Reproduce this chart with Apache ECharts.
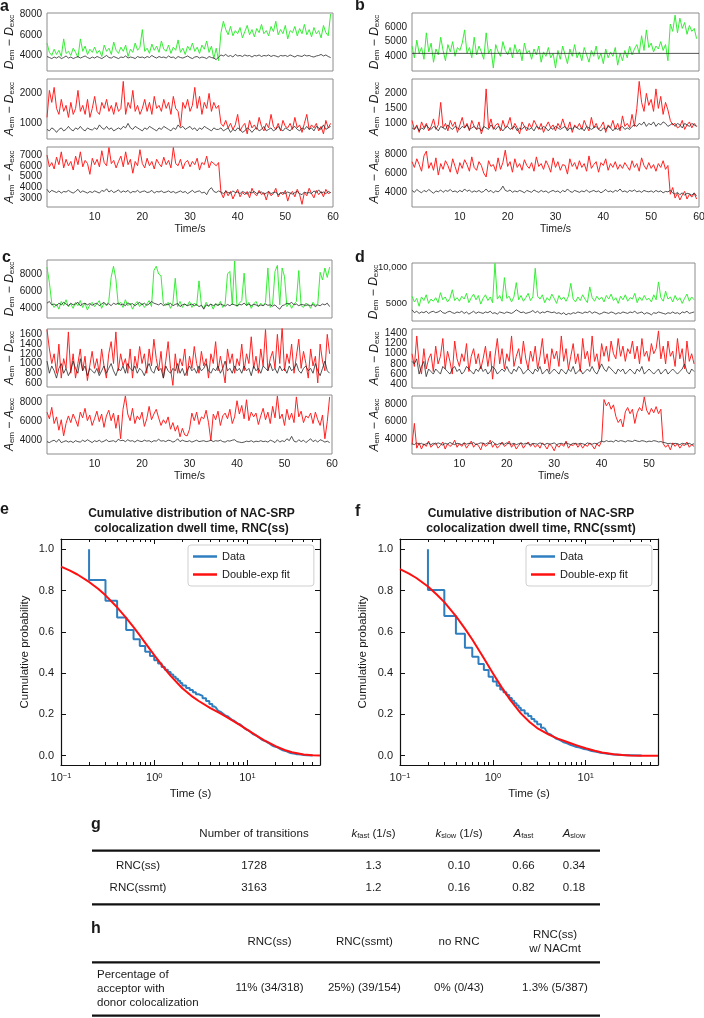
<!DOCTYPE html>
<html><head><meta charset="utf-8">
<script src="https://cdn.jsdelivr.net/npm/echarts@6/dist/echarts.min.js"></script>
<style>html,body{margin:0;padding:0;background:#fff}#c{width:704px;height:1018px}</style>
</head><body><div id="c"></div>
<script>
// ---------------- DATA ----------------
const time = [0,0.5,1,1.5,2,2.5,3,3.5,4,4.5,5,5.5,6,6.5,7,7.5,8,8.5,9,9.5,10,10.5,11,11.5,12,12.5,13,13.5,14,14.5,15,15.5,16,16.5,17,17.5,18,18.5,19,19.5,20,20.5,21,21.5,22,22.5,23,23.5,24,24.5,25,25.5,26,26.5,27,27.5,28,28.5,29,29.5,30,30.5,31,31.5,32,32.5,33,33.5,34,34.5,35,35.5,36,36.5,37,37.5,38,38.5,39,39.5,40,40.5,41,41.5,42,42.5,43,43.5,44,44.5,45,45.5,46,46.5,47,47.5,48,48.5,49,49.5,50,50.5,51,51.5,52,52.5,53,53.5,54,54.5,55,55.5,56,56.5,57,57.5,58,58.5,59,59.5];

const a1Green = [
5200,4300,4000,4600,4100,4500,3900,5600,4200,4400,
4000,4700,4300,3800,5600,4400,4900,4100,4600,4300,
4800,4200,4500,3900,5000,4400,4700,4100,5300,4500,
4200,4800,4400,5000,3900,4600,4300,5200,4500,4800,
6500,4400,4700,4200,5100,4500,4900,4300,5400,4600,
4400,5000,4200,4800,4500,5500,4300,4700,4100,4900,
4500,5200,4400,4800,4200,5000,4600,5400,4300,4900,
3700,4700,3500,6200,7300,6500,6000,6800,5900,6400,
6100,6700,5700,6300,6900,6000,6500,5800,6600,6200,
7000,6100,6400,5900,6800,6300,7300,6000,6500,6100,
6900,5600,6400,6200,6800,5900,6600,6100,7000,6000,
6500,5800,6700,6100,6400,5700,6900,6200,5900,8000];
const a1Black = [
3900,3800,3700,3850,3750,3900,3700,3800,3950,3750,
3850,3700,3800,3900,3750,3850,3950,3800,3700,3850,
3750,3900,3800,3700,3850,4000,3800,3750,3900,3800,
3700,3850,3800,3950,3750,3850,3800,3700,3900,3800,
3850,3750,3900,3800,4000,3850,3750,3900,3800,3850,
3750,3950,3800,3850,3700,3900,3800,3750,3850,3950,
3800,3700,3850,3900,3750,3850,3800,3700,3900,3800,
3750,3600,3850,4050,3950,4100,3900,4000,3850,4100,
3950,4000,3900,4050,3950,4000,3850,4000,3950,4050,
3900,4000,3950,4050,3900,4000,3950,3850,4000,3950,
4000,3900,4050,3950,3850,4000,3950,3900,4050,3950,
4000,3900,3850,3950,4000,4100,3950,4050,3900,3800];
const a2Red = [
1200,2100,1700,2200,1500,1300,1800,1400,1600,1200,
1700,1300,1500,2100,1400,1600,1300,1800,1200,1500,
1900,1400,1300,1700,1500,1800,1400,1600,1300,1700,
1400,1500,2400,1300,1700,1500,2100,1400,1600,1300,
1500,1800,1400,1700,1300,1900,1500,1600,1400,1800,
1500,1700,1300,1900,1500,1400,900,1700,1500,1800,
1400,1600,2200,1500,1900,1300,1700,1500,2000,1400,
1700,1500,1600,1000,900,1100,850,1000,800,950,
1300,750,900,1000,650,1100,850,950,800,1200,
900,750,1000,850,1300,900,800,1000,750,1100,
900,850,1000,800,1200,850,950,700,1000,1300,
800,950,850,1000,750,900,650,1100,850,1000];
const a2Black = [
800,750,850,800,700,800,850,750,800,900,
800,750,850,800,900,800,750,850,800,780,
850,800,950,850,800,900,800,850,750,800,
850,800,900,850,1000,850,800,900,850,800,
750,850,800,900,850,800,750,850,800,900,
850,800,750,850,800,950,850,900,800,850,
900,800,850,750,850,800,900,850,800,750,
850,800,800,850,750,800,850,700,800,750,
850,800,700,750,850,800,700,800,850,750,
800,900,750,800,850,750,800,900,800,750,
850,800,750,850,900,800,750,850,800,900,
800,850,750,900,850,800,950,800,850,900];
const a3Red = [
7000,5900,6300,5700,6800,6100,7300,5800,6600,6000,
6400,5600,6900,6100,7300,5900,6500,6200,5200,6700,
6100,6600,5900,7400,6300,6000,7700,6200,6500,5800,
6400,6900,5900,7300,6100,6600,5300,6400,6000,7500,
6200,5800,6700,6000,6400,5700,6600,6200,5900,6800,
6100,6500,5800,7700,6200,6000,6600,5700,6300,6500,
5900,6400,6100,6700,5600,6300,6100,6900,5800,6400,
6200,6000,6300,3500,3000,3700,3200,3600,2900,3400,
3800,3100,3500,3300,3600,3000,3900,3400,3200,3700,
3300,3500,2800,3600,3200,3400,3900,3100,3500,3300,
3700,2700,3400,3600,3100,3800,3300,2400,3500,3200,
3900,3400,3000,3700,3300,3600,3100,3800,3400,3500];
const a3Black = [
3800,3500,3700,3600,3500,3650,3450,3600,3550,3700,
3550,3450,3600,3800,3500,3650,3550,3450,3600,3500,
3650,3550,3450,3700,3600,3850,3550,3700,3500,3600,
3750,3500,3650,3550,3700,3450,3600,3550,3700,3500,
3600,3650,3500,3550,3700,3450,3600,3550,3650,3500,
3550,3650,3500,3600,3450,3550,3650,3500,3600,3400,
3550,3700,3500,3600,3650,3450,3550,3300,3750,3950,
3600,3500,3650,3550,3400,3600,3500,3450,3650,3500,
3550,3400,3600,3500,3350,3550,3450,3600,3400,3500,
3550,3350,3450,3600,3400,3500,3550,3300,3450,3500,
3400,3550,3450,3350,3500,3600,3400,3300,3550,3450,
3500,3400,3650,3500,3750,3450,3550,3400,3600,3500];

const b1Green = [
4700,3900,5100,4200,4600,3800,5600,4300,4900,3600,
4500,4100,5300,4400,3700,4800,4300,5000,4000,4600,
4400,4900,5800,4200,4600,3900,5300,4100,4700,4300,
3800,5600,4200,4500,3200,4800,4300,4000,5000,4400,
4100,4600,3900,4800,4200,4500,3700,4900,4200,4400,
3800,4500,4100,4700,3600,4300,4000,4600,3900,4200,
3200,4400,3800,4700,4100,3500,4500,4000,4800,3900,
4300,3700,4600,4100,3600,4400,4000,4700,3800,4200,
3500,4500,3900,4300,4000,4600,3400,4200,3700,4400,
3900,4700,4100,4500,4800,4200,5400,4400,5800,4600,
4900,4300,4700,4500,5000,4400,4800,3700,6200,5700,
6800,5600,6600,5900,6300,5500,6100,5700,5900,5200];
const b1BlackTime = [0, 60];
const b1Black = [4200, 4200];
const b2Red = [
1100,800,950,700,1050,850,1000,750,900,1150,
800,950,1700,850,1000,750,1100,900,1050,700,
950,1200,850,1000,750,1100,900,800,1050,650,
900,2150,850,1150,800,950,1000,750,1100,850,
950,1200,800,1000,850,650,1050,900,750,1000,
850,1100,950,800,1000,700,900,1050,850,950,
750,1000,850,1150,900,800,1050,700,950,850,
1000,800,1100,900,750,1200,850,1000,800,900,
1050,700,950,850,1100,800,1000,750,1250,900,
1000,850,1300,900,1500,2400,1700,1400,2000,1600,
1800,1400,2150,1500,1900,1300,1700,1450,1100,950,
1000,850,900,1100,800,950,1050,850,1000,900];
const b2Black = [
850,800,900,750,850,800,950,850,800,900,
850,750,900,850,800,950,850,800,900,850,
800,900,850,950,800,850,900,800,850,750,
900,850,800,950,850,800,900,850,750,850,
900,800,850,900,750,850,800,900,850,800,
850,750,900,850,800,900,850,750,850,800,
900,850,800,850,900,750,850,800,900,850,
800,850,750,900,850,800,850,900,800,750,
850,800,900,850,750,850,800,850,900,800,
850,800,900,950,900,1000,950,1050,900,1000,
950,1050,900,1000,950,1050,1000,900,950,1000,
900,1000,950,850,1000,950,900,1000,950,900];
const b3Red = [
7200,6600,7500,6900,6200,7800,8300,6500,7100,6300,
7600,5800,7000,6400,7300,6800,6100,7500,6700,5900,
7100,6500,7400,6900,6200,7700,6600,6300,7200,6800,
6000,5600,7300,6700,6900,6200,7600,6400,7100,8400,
6700,7200,6100,7500,6600,7000,6300,7400,6800,6500,
7100,6200,7700,6700,7000,6400,7300,6800,6100,7600,
6600,7200,6300,6900,6800,5900,7500,6700,7100,6400,
7300,6600,7000,6200,7800,6500,6900,7200,6100,7100,
6800,7500,6300,7000,6600,7200,6400,6900,6500,7100,
6700,6300,7300,6600,7000,6200,7600,6800,6400,7100,
6500,6900,6200,7000,6600,7300,6400,6800,3800,4500,
3400,3900,3200,3700,4100,3300,3800,3500,3900,3300];
const b3Black = [
4200,4000,4300,4100,3950,4200,4050,4300,4100,3900,
4150,4050,4250,4000,4200,4100,4300,4050,4150,4000,
4200,4050,4350,4100,4250,4000,4150,4050,4200,4000,
4100,4350,4050,4200,3950,4150,4050,4250,4650,4200,
4100,4250,4000,4150,4050,4200,4100,3950,4200,4100,
4000,4250,4100,4000,4200,4050,4150,3950,4100,4200,
4050,4150,3950,4200,4050,4350,4100,4000,4200,4100,
4000,4150,4050,4250,4000,4100,4200,4050,4150,3950,
4100,4300,4050,4150,4000,4200,4100,4350,4050,4150,
4000,4200,4100,4250,4050,4150,4000,4200,4100,4050,
4150,4000,4200,4050,4150,3950,4100,4050,4200,3950,
3800,4000,3750,3950,3700,3900,3850,3700,3950,3600];

const c1Green = [
8800,7000,4600,4100,4500,3900,4800,4300,5000,4200,
4500,4000,4700,4300,4900,4100,4600,3800,4400,4700,
4200,4500,4900,4000,4600,4300,4800,7600,8900,7400,
4400,4700,4100,5000,4300,4600,3900,4500,4800,4200,
4600,4100,4500,4900,4200,8400,8900,8000,7800,4500,
4300,4700,4000,4600,7500,4200,4800,4100,4500,4300,
4800,4100,4600,4300,7200,4400,4000,4700,4200,4500,
3900,4600,4300,4800,4100,4500,8000,8300,4400,9500,
4200,4600,4900,8100,4300,4700,4000,4500,4800,4200,
4600,4300,4700,8700,4100,4500,8300,9000,4400,8700,
7700,4200,4600,4000,4500,4800,8400,4300,4100,4600,
4400,4000,4700,4300,4500,8200,7300,8700,7600,8800];
const c1Black = [
4600,4800,4400,4500,4300,4600,4400,4700,4500,4300,
4600,4400,4500,4700,4300,4500,4600,4400,4550,4350,
4500,4600,4300,4500,4700,4400,4550,4300,4600,4450,
4600,4400,4500,4300,4650,4450,4550,4300,4500,4700,
4400,4600,4350,4500,4800,4600,4500,4400,4600,4300,
4500,4400,4600,4300,4450,4550,4200,4400,4500,4300,
4400,4500,4300,4450,4200,4350,3900,4400,4300,4500,
4300,4450,4350,4500,4400,4250,4450,4300,4500,4400,
4300,4450,4400,4600,4350,4500,4300,4450,4400,4250,
4400,4300,4500,4350,4400,4250,4400,4100,3900,4300,
4400,4600,4500,4700,4400,4500,4300,4450,4400,4350,
4400,4300,4450,4200,4400,4300,4500,4400,4600,4200];
const c2Red = [
1700,1300,1000,1200,800,1400,700,1100,900,1650,
800,1200,700,1000,1300,850,1150,650,950,1250,
900,1100,800,1300,950,700,1200,1450,1000,1650,
850,1200,950,1100,800,1300,700,1150,900,1350,
1000,1200,800,1300,950,1500,1100,850,1250,700,
1050,1450,900,550,1200,800,1100,950,1300,750,
1150,900,1350,1000,800,1250,950,1100,700,1200,
1000,1450,850,1150,900,600,1300,1000,1200,800,
1100,950,1400,850,1200,1000,1550,900,1150,800,
1300,950,1700,850,1100,1250,900,1600,1000,1750,
850,1200,1000,1400,800,1150,1500,900,1250,1000,
700,1300,950,1150,600,1400,1050,850,1600,1200];
const c2Black = [
1050,800,950,850,700,900,1000,800,900,750,
850,1050,900,800,1100,850,950,750,900,850,
800,900,750,850,950,800,900,1000,850,750,
900,850,950,800,1000,900,850,950,800,900,
850,750,900,1000,850,800,950,850,900,700,
950,850,800,900,850,1000,800,900,750,850,
950,850,900,800,950,850,900,1000,850,800,
900,850,950,800,900,1050,850,900,800,950,
850,900,800,950,850,900,750,950,850,900,
800,950,900,850,1000,850,900,800,950,850,
900,800,950,850,900,1000,850,800,900,950,
850,900,800,1000,850,750,900,1050,850,800];
const c3Red = [
7000,6300,7500,5800,6500,5100,6200,4500,5800,6600,
5900,6800,6200,5500,7000,6400,7400,6100,6700,5600,
6300,7100,6000,6800,5400,6600,7200,6100,6900,5300,
6700,4200,7300,8700,6800,6100,7400,5800,6600,6200,
7000,5500,6300,7600,6200,6800,7300,6400,5600,6200,
5800,6500,5200,5900,5000,5600,4400,5300,4600,4500,
5200,6900,6100,7000,5700,6500,6300,7200,5900,4000,
6800,6200,7100,5600,6600,6900,6300,7300,5800,6500,
8200,6800,7700,6300,8300,6100,7000,6500,6900,5700,
6600,7400,6200,7000,5800,7600,6400,8700,6300,6800,
5600,7300,6200,6900,5900,8600,6500,7100,5900,6600,
6400,6900,5800,7000,6200,5600,6700,4200,6000,8600];
const c3Black = [
3900,3800,3950,4050,3850,4150,3800,3900,4000,3850,
3950,3800,4000,3900,3850,4050,3900,4100,3950,3800,
4000,3900,4050,3850,3950,4100,3900,3950,4000,3850,
4150,4000,4050,3900,4100,3950,4000,3850,4050,3950,
3900,4050,3950,4000,3850,4000,3950,4150,3950,4000,
3900,4050,4000,3850,3950,4200,3900,4050,3950,3900,
4000,3850,3950,4050,3900,3950,4000,3900,3950,4050,
3900,4000,3950,4050,3900,3850,4000,3950,4050,4100,
3900,3850,3800,3850,3950,3900,4000,3850,3950,3900,
4000,3900,3950,3850,4050,3950,3800,4100,3850,4000,
3900,4200,4000,4450,3950,3850,4100,3900,4050,3800,
4000,4200,3900,4050,3850,4100,4000,3850,3950,3800];

const d1Green = [
6000,5200,5700,4600,5900,5400,6200,5000,5600,5300,
5800,5100,6500,5500,5900,5200,5700,6900,5400,5800,
5300,6000,5600,6400,5100,5800,6300,5500,6100,4900,
5700,6200,5400,5900,5100,10600,5600,6100,5300,8600,
5700,6000,5200,5900,7900,5500,6100,5300,5800,6400,
5400,5900,9900,6000,5600,6200,5100,5800,5400,6300,
5700,5000,6100,5500,5900,5300,6000,7800,5600,5200,
5900,5400,6200,5600,5100,7300,5800,5300,6000,5500,
5900,5200,6100,5600,6300,5400,5800,5000,6000,5500,
6200,5300,5800,5600,6400,5100,5900,5400,6100,5500,
5700,5200,6200,5500,8000,5800,5300,6700,5600,5900,
5200,6100,5400,5800,5000,5700,6300,5300,5900,5500];
const d1Black = [
4100,3700,3900,3600,3800,3700,3900,3600,3800,3900,
3700,3800,4000,3700,3600,3800,3900,3700,3600,3800,
3700,3900,3600,3800,3500,3700,3900,3600,3800,3700,
3600,3800,3700,3900,3600,3700,3500,3800,3700,3600,
3800,3700,3600,3800,4100,3900,3700,3800,3600,3700,
3800,4000,3700,3900,3600,3800,3700,3900,3800,3700,
3800,3600,3700,3500,3700,3400,3600,3500,3700,3600,
3800,3700,3600,3800,3700,3900,3600,3800,3700,3500,
3600,3800,3700,3600,3800,3700,3500,3700,3600,3800,
3700,3600,3800,3700,3900,3600,3700,3800,3500,3700,
3600,3400,3700,3600,3800,3700,3600,3500,3700,3600,
3800,3600,3700,3500,3800,3700,3900,3600,3700,3800];
const d2Red = [
1000,750,1350,800,600,1100,700,900,1000,650,
1150,800,950,1300,700,1050,850,600,1250,900,
750,1000,850,1200,650,950,1100,800,1000,700,
900,1150,750,1050,500,950,1300,800,1100,700,
1000,850,1350,750,950,1100,800,1250,900,700,
1050,850,1150,700,950,1300,800,1000,650,1100,
900,1050,750,1350,850,1100,700,950,1200,800,
1000,650,1300,900,1050,750,1350,850,1000,700,
1200,950,1150,850,1250,1000,900,1300,950,1150,
850,1100,1000,1250,900,1150,800,1300,950,1050,
850,1200,1000,1100,1450,900,1150,800,1250,950,
1050,750,1300,900,1100,700,1250,850,1000,800];
const d2Black = [
850,800,900,600,750,850,550,700,650,600,
700,650,600,750,700,650,600,700,750,650,
700,600,650,750,700,650,600,700,650,750,
650,700,600,650,750,700,600,650,700,650,
750,650,600,700,650,750,700,600,650,700,
650,600,700,650,750,600,650,700,600,650,
700,650,600,700,650,600,700,650,750,600,
650,700,600,650,700,650,750,650,600,700,
800,700,650,750,700,650,600,700,650,700,
600,650,700,650,600,700,650,750,600,650,
700,650,600,650,700,600,650,700,600,650,
700,650,600,650,700,800,650,600,700,650];
const d3Red = [
3400,5800,3000,3600,2900,3500,3200,3800,3100,3400,
3600,3000,3300,3700,2900,3500,3200,3400,3900,3100,
3500,3200,3600,3000,3400,3800,3100,3500,3300,2800,
3600,3200,3400,3900,3100,3500,3000,3300,3700,3200,
3400,3800,3100,3500,2900,3300,3600,3000,3400,3700,
3200,3500,3100,3400,3000,3600,3300,2900,3500,3200,
2700,3400,3100,3500,3200,3800,3000,3400,3300,3600,
3100,3500,3000,3400,3200,3600,3300,2900,3500,3200,
3800,8500,7800,8200,7400,7900,6600,5900,6300,5400,
7100,7600,6900,7400,5800,7000,7600,7200,8800,7300,
6800,7500,7000,7700,6900,7400,3500,3100,3400,2800,
3600,3200,3500,3000,3400,3300,3700,3100,3400,3200];
const d3Black = [
3500,3400,3600,3450,3550,3350,3500,3600,3400,3550,
3450,3600,3500,3350,3550,3450,3650,3500,3400,3550,
3500,3400,3600,3450,3550,3500,3650,3400,3500,3600,
3550,3450,3600,3500,3750,3500,3400,3550,3500,3450,
3600,3500,3450,3550,3400,3500,3600,3450,3550,3500,
3400,3550,3500,3450,3600,3500,3400,3550,3450,3500,
3600,3400,3500,3550,3450,3600,3500,3400,3550,3500,
3450,3550,3500,3400,3600,3500,3450,3550,3500,3650,
3800,3700,3850,3750,3800,3700,3900,3750,3850,3800,
3700,3850,3800,3750,3900,3800,3750,3850,3800,3700,
3800,3750,3850,3800,3700,3750,3650,3600,3500,3550,
3450,3550,3500,3400,3550,3500,3450,3550,3400,3500];

// y tick labels of the trace panels
const a1Ticks = [4000, 6000, 8000];
const a2Ticks = [1000, 2000];
const a3Ticks = [3000, 4000, 5000, 6000, 7000];
const b1Ticks = [4000, 5000, 6000];
const b2Ticks = [1000, 1500, 2000];
const b3Ticks = [4000, 6000, 8000];
const c1Ticks = [4000, 6000, 8000];
const c2Ticks = [600, 800, 1000, 1200, 1400, 1600];
const c3Ticks = [4000, 6000, 8000];
const d1Ticks = [5000, 10000];
const d2Ticks = [400, 600, 800, 1000, 1200, 1400];
const d3Ticks = [4000, 6000, 8000];

// cumulative distributions (e: RNC(ss), f: RNC(ssmt))
const eStepT = [0.2,0.3,0.4,0.5,0.6,0.7,0.8,0.9,1.0,1.1,1.2,1.3,1.4,1.5,1.6,1.7,1.8,1.9,2.0,2.2,2.4,2.6,2.8,3.0,3.3,3.6,3.9,4.2,4.5];
const eStepP = [1.0,0.851,0.751,0.670,0.609,0.564,0.531,0.504,0.483,0.463,0.447,0.430,0.417,0.405,0.393,0.383,0.373,0.363,0.352,0.340,0.328,0.318,0.308,0.298,0.290,0.278,0.265,0.250,0.238];
const eTailT = [4.5,5,6,7,8,10,12,15,20,25,30,35,40,50];
const eTailP = [0.238,0.215,0.192,0.172,0.155,0.125,0.100,0.073,0.043,0.024,0.012,0.007,0.004,0.001];
const fStepT = [0.2,0.3,0.4,0.5,0.6,0.7,0.8,0.9,1.0,1.1,1.2,1.3,1.4,1.5,1.6,1.7,1.8,1.9,2.0,2.2,2.4,2.6,2.8,3.0,3.3,3.6];
const fStepP = [1.0,0.803,0.677,0.591,0.523,0.480,0.444,0.415,0.383,0.359,0.339,0.321,0.307,0.294,0.280,0.266,0.254,0.243,0.232,0.220,0.205,0.192,0.178,0.166,0.152,0.135];
const fTailT = [3.6,4,5,6,7,8,10,12,15,20,30,40];
const fTailP = [0.135,0.107,0.080,0.063,0.051,0.042,0.031,0.022,0.013,0.006,0.002,0.001];
const fitT  = [0.1,0.125,0.15,0.2,0.25,0.3,0.4,0.5,0.6,0.7,0.8,1,1.25,1.5,2,2.5,3,4,5,6,7,8,10,12.5,15,20,25,30,40,50,60];
const eFitP = [0.916,0.897,0.878,0.842,0.809,0.777,0.719,0.668,0.623,0.583,0.547,0.487,0.430,0.387,0.327,0.290,0.265,0.231,0.207,0.187,0.169,0.153,0.125,0.097,0.076,0.046,0.028,0.017,0.006,0.002,0.001];
const fFitP = [0.904,0.882,0.861,0.820,0.780,0.744,0.676,0.616,0.563,0.515,0.472,0.400,0.330,0.277,0.205,0.162,0.134,0.102,0.083,0.070,0.059,0.050,0.036,0.024,0.016,0.007,0.003,0.001,0.000,0.000,0.000];
const cdfYTicks = [0, 0.2, 0.4, 0.6, 0.8, 1.0];
const logMajor = [0.1, 1, 10];
const logMinor = [0.2,0.3,0.4,0.5,0.6,0.7,0.8,0.9,2,3,4,5,6,7,8,9,20,30,40,50];
const legendNames = ['Data', 'Double-exp fit'];

// tables
const gHeader = ['Number of transitions', '{i|k}{s|fast} (1/s)', '{i|k}{s|slow} (1/s)', '{i|A}{s|fast}', '{i|A}{s|slow}'];
const gRows = [
  ['RNC(ss)', '1728', '1.3', '0.10', '0.66', '0.34'],
  ['RNC(ssmt)', '3163', '1.2', '0.16', '0.82', '0.18']
];
const hHeader = ['RNC(ss)', 'RNC(ssmt)', 'no RNC', 'RNC(ss)\nw/ NACmt'];
const hRowLabel = 'Percentage of\nacceptor with\ndonor colocalization';
const hValues = ['11% (34/318)', '25%) (39/154)', '0% (0/43)', '1.3% (5/387)'];

// ---------------- STYLE / LAYOUT ----------------
const FONT = "'Liberation Sans', Arial, Helvetica, sans-serif";
const TXT = '#1a1a1a';
const GREEN = '#36ee36', RED = '#ff2222', BLACK = '#2a2a2a', BLUE = '#2f7fc0', FITRED = '#ff1010';
const nameD = '{i|D}{s|em}{n| − }{i|D}{s|exc}';
const nameAD = '{i|A}{s|em}{n| − }{i|D}{s|exc}';
const nameAA = '{i|A}{s|em}{n| − }{i|A}{s|exc}';
const subRich = {
  i: {fontStyle: 'italic', fontSize: 12, color: TXT, fontFamily: FONT},
  n: {fontSize: 12, color: TXT, fontFamily: FONT},
  s: {fontSize: 8, color: TXT, fontFamily: FONT, verticalAlign: 'bottom'}
};

const traces = [
  {left:47, top:13, width:286, height:58, xMax:60, xLab:false, main:a1Green, ref:a1Black, col:GREEN, yMin:2500, yMax:8100, ticks:a1Ticks, name:nameD},
  {left:47, top:79, width:286, height:60, xMax:60, xLab:false, main:a2Red, ref:a2Black, col:RED, yMin:480, yMax:2480, ticks:a2Ticks, name:nameAD},
  {left:47, top:147, width:286, height:60, xMax:60, xLab:true, main:a3Red, ref:a3Black, col:RED, yMin:2150, yMax:7750, ticks:a3Ticks, name:nameAA},
  {left:412, top:13, width:287, height:58, xMax:60, xLab:false, main:b1Green, ref:b1Black, refT:b1BlackTime, col:GREEN, yMin:3000, yMax:6950, ticks:b1Ticks, name:nameD},
  {left:412, top:79, width:287, height:60, xMax:60, xLab:false, main:b2Red, ref:b2Black, col:RED, yMin:480, yMax:2480, ticks:b2Ticks, name:nameAD},
  {left:412, top:147, width:287, height:60, xMax:60, xLab:true, main:b3Red, ref:b3Black, col:RED, yMin:2470, yMax:8730, ticks:b3Ticks, name:nameAA},
  {left:47, top:260, width:285, height:58, xMax:60, xLab:false, main:c1Green, ref:c1Black, col:GREEN, yMin:2870, yMax:9630, ticks:c1Ticks, name:nameD},
  {left:47, top:329, width:285, height:58, xMax:60, xLab:false, main:c2Red, ref:c2Black, col:RED, yMin:517, yMax:1710, ticks:c2Ticks, name:nameAD},
  {left:47, top:395, width:285, height:59, xMax:60, xLab:true, main:c3Red, ref:c3Black, col:RED, yMin:2600, yMax:8800, ticks:c3Ticks, name:nameAA},
  {left:412, top:263, width:283, height:58, xMax:59.7, xLab:false, main:d1Green, ref:d1Black, col:GREEN, yMin:2540, yMax:10640, ticks:d1Ticks, name:nameD, nameGap:32, labelSize:9.5},
  {left:412, top:329, width:283, height:59, xMax:59.7, xLab:false, main:d2Red, ref:d2Black, col:RED, yMin:326, yMax:1487, ticks:d2Ticks, name:nameAD},
  {left:412, top:396, width:283, height:58, xMax:59.7, xLab:true, main:d3Red, ref:d3Black, col:RED, yMin:2340, yMax:8900, ticks:d3Ticks, name:nameAA}
];

const zip = (xs, ys) => xs.map((x, i) => [x, ys[i]]);
const grids = [], xAxes = [], yAxes = [], series = [];
const yLabelFmt = v => v >= 10000 ? Number(v).toLocaleString('en-US') : String(v);

traces.forEach((tr, k) => {
  grids.push({left: tr.left, top: tr.top, width: tr.width, height: tr.height, show: true,
    borderColor: '#8c8c8c', borderWidth: 1, backgroundColor: 'transparent', containLabel: false, outerBoundsMode: 'none'});
  xAxes.push({gridIndex: k, type: 'value', min: 0, max: tr.xMax, interval: 10, position: 'bottom',
    axisLine: {show: false, onZero: false}, axisTick: {show: false}, splitLine: {show: false},
    axisLabel: {show: tr.xLab, showMinLabel: false, showMaxLabel: tr.xMax === 60, margin: 5, fontSize: 10.5, color: TXT, fontFamily: FONT},
    name: tr.xLab ? 'Time/s' : '', nameLocation: 'middle', nameGap: 17,
    nameTextStyle: {fontSize: 10.5, color: TXT, fontFamily: FONT}});
  // labels split over two overlapping axes so that tightly packed labels are never culled
  const evenTicks = tr.ticks.filter((v, i) => i % 2 === 0);
  const oddTicks = tr.ticks.filter((v, i) => i % 2 === 1);
  const ls = tr.labelSize || 10;
  const yi = yAxes.length;
  yAxes.push({gridIndex: k, type: 'value', min: tr.yMin, max: tr.yMax, position: 'left',
    axisLine: {show: false, onZero: false}, axisTick: {show: false}, splitLine: {show: false},
    axisLabel: {customValues: evenTicks, showMinLabel: true, showMaxLabel: true,
      fontSize: ls, color: TXT, fontFamily: FONT, margin: 5, formatter: yLabelFmt},
    name: tr.name, nameLocation: 'middle', nameRotate: 90, nameGap: tr.nameGap || 27,
    nameTextStyle: {color: TXT, fontFamily: FONT, rich: subRich}});
  yAxes.push({gridIndex: k, type: 'value', min: tr.yMin, max: tr.yMax, position: 'left', offset: 0,
    axisLine: {show: false, onZero: false}, axisTick: {show: false}, splitLine: {show: false},
    axisLabel: {customValues: oddTicks, showMinLabel: true, showMaxLabel: true,
      fontSize: ls, color: TXT, fontFamily: FONT, margin: 5, formatter: yLabelFmt}});
  series.push({type: 'line', xAxisIndex: k, yAxisIndex: yi, data: zip(time, tr.main), showSymbol: false, symbol: 'none',
    lineStyle: {color: tr.col, width: 1}, silent: true});
  series.push({type: 'line', xAxisIndex: k, yAxisIndex: yi, data: zip(tr.refT || time, tr.ref), showSymbol: false, symbol: 'none',
    lineStyle: {color: BLACK, width: 0.8}, silent: true});
});

// CDF panels
const cdfPanels = [
  {left: 61, width: 259, stepT: eStepT, stepP: eStepP, tailT: eTailT, tailP: eTailP, fitP: eFitP, nameGap: 30},
  {left: 400, width: 258, stepT: fStepT, stepP: fStepP, tailT: fTailT, tailP: fTailP, fitP: fFitP, nameGap: 31}
];
const axisBlack = {color: '#111', width: 1.2};
const expRich = {
  b: {fontSize: 11, color: TXT, fontFamily: FONT},
  s: {fontSize: 7.5, color: TXT, fontFamily: FONT, verticalAlign: 'top'}
};
cdfPanels.forEach((p) => {
  const g = grids.length;
  grids.push({left: p.left, top: 539, width: p.width, height: 226, show: false, containLabel: false, outerBoundsMode: 'none'});
  const xBase = {gridIndex: g, type: 'log', logBase: 10, min: 0.1, max: 60, splitLine: {show: false}, minorTick: {show: false}};
  const xi = xAxes.length;
  xAxes.push(Object.assign({}, xBase, {position: 'bottom',
    axisLine: {show: true, onZero: false, lineStyle: axisBlack},
    axisTick: {show: true, inside: true, length: 5, customValues: logMajor, lineStyle: {color: '#111', width: 1}},
    axisLabel: {customValues: logMajor, margin: 7, formatter: v => '{b|10}{s|' + String(Math.round(Math.log10(v))).replace('-', '−') + '}', rich: expRich},
    name: 'Time (s)', nameLocation: 'middle', nameGap: 23, nameTextStyle: {fontSize: 11.5, color: TXT, fontFamily: FONT}}));
  xAxes.push(Object.assign({}, xBase, {position: 'bottom', axisLine: {show: false, onZero: false},
    axisTick: {show: true, inside: true, length: 3, customValues: logMinor, lineStyle: {color: '#111', width: 1}}, axisLabel: {show: false}}));
  xAxes.push(Object.assign({}, xBase, {position: 'top', axisLine: {show: true, onZero: false, lineStyle: axisBlack},
    axisTick: {show: true, inside: true, length: 5, customValues: logMajor, lineStyle: {color: '#111', width: 1}}, axisLabel: {show: false}}));
  xAxes.push(Object.assign({}, xBase, {position: 'top', axisLine: {show: false, onZero: false},
    axisTick: {show: true, inside: true, length: 3, customValues: logMinor, lineStyle: {color: '#111', width: 1}}, axisLabel: {show: false}}));
  const yi = yAxes.length;
  yAxes.push({gridIndex: g, type: 'value', min: -0.045, max: 1.05, position: 'left', splitLine: {show: false},
    axisLine: {show: true, onZero: false, lineStyle: axisBlack},
    axisTick: {show: true, inside: true, length: 5, customValues: cdfYTicks, lineStyle: {color: '#111', width: 1}},
    axisLabel: {customValues: cdfYTicks, showMinLabel: true, showMaxLabel: true, formatter: v => Number(v).toFixed(1), fontSize: 11, color: TXT, fontFamily: FONT, margin: 7},
    name: 'Cumulative probability', nameLocation: 'middle', nameRotate: 90, nameGap: p.nameGap,
    nameTextStyle: {fontSize: 11.5, color: TXT, fontFamily: FONT}});
  yAxes.push({gridIndex: g, type: 'value', min: -0.045, max: 1.05, position: 'right', splitLine: {show: false},
    axisLine: {show: true, onZero: false, lineStyle: axisBlack},
    axisTick: {show: true, inside: true, length: 5, customValues: cdfYTicks, lineStyle: {color: '#111', width: 1}},
    axisLabel: {show: false}});
  series.push({type: 'line', name: 'Data', xAxisIndex: xi, yAxisIndex: yi, data: zip(p.stepT, p.stepP), step: 'start',
    showSymbol: false, symbol: 'none', lineStyle: {color: BLUE, width: 2}, itemStyle: {color: BLUE}, silent: true});
  series.push({type: 'line', name: 'Data', xAxisIndex: xi, yAxisIndex: yi, data: zip(p.tailT, p.tailP), smooth: 0.3,
    smoothMonotone: 'x', showSymbol: false, symbol: 'none', lineStyle: {color: BLUE, width: 2}, itemStyle: {color: BLUE}, silent: true});
  series.push({type: 'line', name: 'Double-exp fit', xAxisIndex: xi, yAxisIndex: yi, data: zip(fitT, p.fitP), smooth: false,
    showSymbol: false, symbol: 'none', lineStyle: {color: FITRED, width: 2, join: 'round'}, itemStyle: {color: FITRED}, silent: true});
});

const legendBase = {data: legendNames, orient: 'vertical', top: 545, icon: 'rect', itemWidth: 24, itemHeight: 2.5, itemGap: 7,
  padding: [6, 24, 6, 5], borderColor: '#cfcfcf', borderWidth: 1, borderRadius: 3, backgroundColor: '#fff',
  textStyle: {fontSize: 11, color: TXT, fontFamily: FONT}, selectedMode: false};
const legends = [Object.assign({}, legendBase, {left: 188}), Object.assign({}, legendBase, {left: 526})];

// graphic: panel letters, titles, tables
const gfx = [];
function T(x, y, text, o) {
  const st = Object.assign({text: text, fill: TXT, fontSize: 11.5, fontFamily: FONT, align: 'center', verticalAlign: 'middle',
    textAlign: 'center', textVerticalAlign: 'middle'}, o || {});
  if (o && o.align) st.textAlign = o.align;
  gfx.push({type: 'text', x: x, y: y, silent: true, style: st});
}
function L(x, y, w, h) { gfx.push({type: 'rect', silent: true, shape: {x: x, y: y, width: w, height: h}, style: {fill: '#111'}}); }
const letter = {fontSize: 16, fontWeight: 'bold', fontFamily: 'Arial, "Liberation Sans", sans-serif', align: 'left'};
T(0, 7, 'a', letter); T(355, 6, 'b', letter); T(2, 258, 'c', letter); T(355, 258, 'd', letter);
T(0, 510, 'e', letter); T(355, 512, 'f', letter); T(91, 825, 'g', letter); T(91, 929, 'h', letter);
const titleSt = {fontSize: 12, fontWeight: 'bold', lineHeight: 14.5};
T(191.5, 521, 'Cumulative distribution of NAC-SRP\ncolocalization dwell time, RNC(ss)', titleSt);
T(531, 521, 'Cumulative distribution of NAC-SRP\ncolocalization dwell time, RNC(ssmt)', titleSt);
const tRich = {
  i: {fontStyle: 'italic', fontSize: 11.5, fill: TXT, color: TXT, fontFamily: FONT},
  s: {fontSize: 7.5, fill: TXT, color: TXT, fontFamily: FONT, verticalAlign: 'bottom'},
  n: {fontSize: 11.5, color: TXT, fontFamily: FONT}
};
const gCols = [138, 254, 373.5, 459, 523.5, 574];
gHeader.forEach((h, i) => T(gCols[i + 1], 834, h.indexOf('{') >= 0 ? h.replace(/ \(1\/s\)/, '{n| (1/s)}') : h, {rich: tRich}));
L(92, 849.6, 508, 2.2);
gRows.forEach((row, r) => row.forEach((v, i) => T(gCols[i], r === 0 ? 866 : 888.3, v)));
L(92, 903.3, 508, 2.2);
const hCols = [269.5, 364.4, 459, 555];
hHeader.forEach((h, i) => T(hCols[i], i === 3 ? 941.7 : 942.3, h, {lineHeight: 13.3}));
L(92, 961.2, 508, 2.2);
T(97, 988.8, hRowLabel, {align: 'left', lineHeight: 13.8});
hValues.forEach((v, i) => T(hCols[i], 988.3, v));
L(92, 1014.6, 508, 2.2);

const chart = echarts.init(document.getElementById('c'), null, {renderer: 'canvas'});
chart.setOption({
  animation: false,
  backgroundColor: '#ffffff',
  textStyle: {fontFamily: FONT},
  grid: grids, xAxis: xAxes, yAxis: yAxes, series: series,
  legend: legends, graphic: gfx, tooltip: {show: false}
});
</script></body></html>
